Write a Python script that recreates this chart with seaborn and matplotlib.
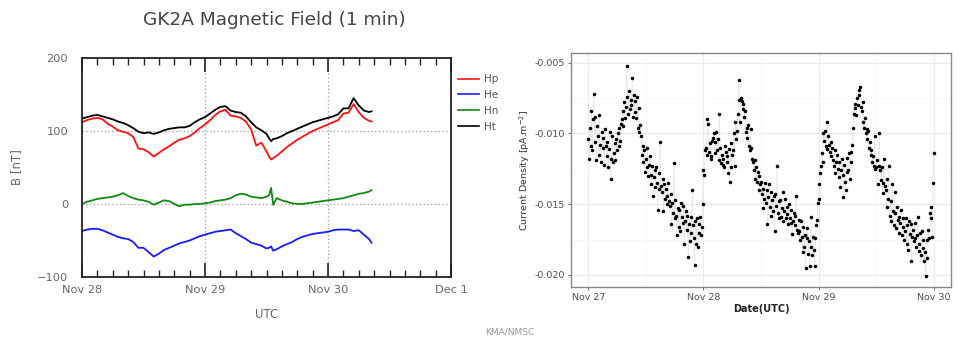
import matplotlib
matplotlib.use("Agg")
import matplotlib.pyplot as plt
import numpy as np
import pandas as pd
import seaborn as sns
from matplotlib.lines import Line2D
from matplotlib.ticker import FixedLocator, MultipleLocator, FuncFormatter

# ---------------- Left panel data: GK2A magnetic field (hours since Nov 28 00:00 UTC)
hours = [0, 1, 2, 3, 4, 5, 6, 7, 8, 9, 10, 11, 12, 13, 14, 15, 16, 17, 18, 19,
         20, 21, 22, 23, 24, 25, 26, 27, 28, 29, 30, 31, 32, 33, 34, 35, 36,
         36.5, 36.9, 37.3, 38, 39, 40, 41, 42, 43, 44, 45, 46, 47, 48, 49, 50,
         51, 52, 53, 54, 55, 56, 56.5]
hp = [112, 115, 117, 118, 116, 110, 106, 101, 99, 97, 92, 76, 75, 71, 65, 70, 75, 79, 84, 88,
      90, 93, 98, 104, 109, 115, 122, 127, 129, 121, 120, 118, 113, 102, 80, 84, 72,
      65, 61, 63, 66, 72, 78, 83, 88, 92, 96, 100, 103, 106, 109, 112, 115,
      124, 125, 137, 126, 118, 114, 113]
he = [-37, -35, -34, -34, -36, -39, -42, -45, -47, -48, -52, -60, -60, -66, -72, -68, -63, -60, -57, -54,
      -52, -50, -47, -44, -42, -40, -38, -37, -36, -35, -40, -44, -48, -53, -55, -57, -61,
      -60, -58, -64, -62, -58, -55, -52, -48, -45, -43, -41, -40, -39, -38, -36, -35,
      -35, -35, -37, -36, -42, -48, -53]
hn = [0, 3, 5, 7, 8, 9, 10, 12, 15, 11, 8, 6, 5, 3, -1, 2, 5, 4, 0, -3,
      -1, -1, 0, 0, 1, 2, 4, 5, 6, 8, 12, 14, 13, 10, 9, 8, 10,
      12, 22, -1, 8, 5, 3, 1, 0, 0, 1, 2, 3, 4, 5, 6, 7,
      8, 10, 12, 14, 15, 17, 19]
ht = [117, 119, 121, 122, 120, 118, 116, 113, 111, 108, 104, 99, 97, 98, 96, 98, 101, 103, 104, 105,
      105, 107, 112, 116, 119, 124, 129, 133, 134, 128, 126, 125, 120, 112, 105, 101, 96,
      90, 86, 89, 90, 93, 97, 100, 103, 106, 109, 112, 114, 116, 118, 120, 123,
      131, 131, 145, 135, 128, 126, 127]
components = ["Hp", "He", "Hn", "Ht"]
left_ticks_h = [0, 24, 48, 72]
left_tick_labels = ["Nov 28", "Nov 29", "Nov 30", "Dec 1"]

# ---------------- Right panel data: current density (10-min samples from Nov 27 00:00 UTC), units 1e-3
cd_milli = [
    -10.4, -11.8, -9.6, -10.9, -8.4, -11.2,
    -9.0, -7.2, -10.6, -8.8, -11.9, -9.5,
    -10.2, -11.5, -8.7, -10.8, -12.0, -9.9,
    -11.0, -10.3, -12.2, -9.7, -10.9, -11.6,
    -10.6, -12.4, -11.1, -9.9, -13.2, -11.8,
    -10.2, -12.0, -11.4, -10.7, -11.9, -10.4,
    -11.2, -10.0, -10.9, -9.6, -10.5, -9.3,
    -9.0, -8.4, -9.5, -7.8, -8.9, -8.1,
    -5.2, -7.4, -8.6, -7.0, -8.3, -7.6,
    -8.0, -6.1, -8.8, -7.3, -8.5, -7.7,
    -8.9, -7.4, -9.6, -8.2, -9.9, -9.4,
    -10.2, -11.5, -10.9, -12.0, -11.2, -12.7,
    -11.8, -12.4, -11.0, -13.0, -12.2, -11.6,
    -12.9, -13.6, -12.3, -14.4, -13.1, -12.6,
    -13.8, -12.4, -13.5, -15.4, -13.9, -12.8,
    -10.6, -13.7, -14.1, -13.2, -15.5, -13.6,
    -14.6, -13.9, -15.0, -14.4, -13.5, -14.8,
    -15.1, -14.3, -16.4, -14.9, -15.6, -12.1,
    -16.0, -14.7, -15.8, -17.2, -15.3, -16.6,
    -15.4, -16.9, -14.9, -15.9, -16.3, -15.1,
    -17.8, -16.2, -15.5, -16.8, -15.8, -18.7,
    -16.4, -17.6, -15.9, -17.0, -14.0, -16.5,
    -17.4, -19.3, -16.2, -17.8, -16.0, -18.0,
    -17.0, -16.4, -15.9, -17.2, -16.6, -15.0,
    -12.6, -12.9, -11.2, -11.0, -11.5, -9.0,
    -9.3, -11.3, -10.7, -11.6, -11.8, -10.5,
    -10.3, -10.0, -11.4, -10.6, -9.9, -11.2,
    -10.4, -11.9, -8.6, -11.0, -12.1, -11.5,
    -12.2, -11.8, -12.4, -10.9, -11.3, -12.0,
    -11.6, -12.8, -11.1, -13.4, -10.7, -12.4,
    -11.5, -11.2, -10.0, -12.3, -9.2, -10.4,
    -9.8, -8.6, -6.2, -7.6, -9.2, -7.5,
    -7.7, -8.3, -7.9, -8.8, -8.4, -9.9,
    -9.6, -10.3, -9.4, -10.9, -11.2, -9.7,
    -11.0, -11.8, -12.0, -12.6, -11.9, -13.2,
    -12.4, -13.4, -12.7, -14.0, -13.0, -13.6,
    -13.4, -14.3, -13.9, -15.3, -14.6, -13.5,
    -14.9, -14.0, -16.4, -14.5, -13.6, -15.2,
    -14.1, -15.8, -14.7, -15.5, -14.4, -16.9,
    -14.3, -15.1, -12.3, -15.6, -16.0, -14.8,
    -14.7, -15.9, -15.3, -14.1, -16.2, -15.5,
    -14.6, -16.0, -15.7, -15.2, -16.4, -15.0,
    -16.0, -15.4, -16.3, -17.1, -16.2, -15.6,
    -16.5, -15.8, -14.4, -16.8, -17.0, -16.1,
    -16.9, -17.5, -16.2, -17.3, -18.4, -16.6,
    -18.0, -17.2, -19.5, -17.4, -16.7, -18.5,
    -17.6, -19.4, -18.0, -15.9, -18.6, -17.3,
    -18.2, -19.4, -17.4, -16.5, -16.1, -14.9,
    -14.6, -13.6, -12.8, -12.3, -11.4, -12.0,
    -10.0, -10.5, -9.8, -10.9, -11.1, -9.2,
    -10.2, -10.8, -11.3, -10.6, -11.6, -11.0,
    -11.9, -12.3, -11.2, -12.8, -12.0, -11.5,
    -12.5, -13.1, -12.0, -13.8, -12.6, -11.8,
    -12.9, -14.5, -12.2, -13.4, -14.0, -12.7,
    -11.7, -12.6, -11.4, -13.2, -12.0, -11.3,
    -10.8, -9.6, -8.6, -8.2, -7.9, -8.7,
    -7.5, -8.0, -7.3, -6.9, -6.7, -8.1,
    -8.4, -7.8, -9.2, -9.6, -8.9, -10.0,
    -9.7, -10.4, -9.8, -11.0, -10.6, -11.5,
    -11.2, -12.0, -11.6, -12.3, -10.2, -12.5,
    -12.4, -11.9, -13.6, -12.3, -10.0, -12.6,
    -13.3, -12.4, -14.2, -13.5, -11.8, -13.7,
    -14.0, -15.2, -13.2, -14.6, -12.3, -15.8,
    -14.8, -16.2, -13.6, -15.5, -16.5, -14.1,
    -15.6, -16.7, -15.2, -16.1, -17.0, -15.9,
    -16.3, -15.4, -17.2, -16.6, -16.0, -17.5,
    -16.9, -16.0, -17.8, -16.5, -18.2, -16.2,
    -17.1, -16.4, -19.0, -17.3, -16.8, -17.6,
    -16.3, -17.4, -18.0, -17.2, -15.9, -17.8,
    -18.3, -17.0, -18.6, -16.9, -17.5, -18.1,
    -19.0, -18.4, -20.1, -18.8, -17.5, -16.8,
    -17.4, -15.6, -16.0, -15.2, -17.3, -13.5,
    -11.4,
]
right_ticks_h = [0, 24, 48, 72]
right_tick_labels = ["Nov 27", "Nov 28", "Nov 29", "Nov 30"]
right_yticks = [-0.020, -0.015, -0.010, -0.005]

# ---------------- Build tables
df_b = pd.DataFrame({"hour": hours * 4,
                     "B": hp + he + hn + ht,
                     "comp": sum([[c] * len(hours) for c in components], [])})
cd_hours = np.arange(len(cd_milli)) / 6.0
df_cd = pd.DataFrame({"hour": cd_hours, "J": np.array(cd_milli) * 1e-3})

# ---------------- Figure
W, H = 961, 338
fig = plt.figure(figsize=(W / 100, H / 100), dpi=100)
fig.patch.set_facecolor("white")

def box(l, t, r, b):
    return [l / W, (H - b) / H, (r - l) / W, (b - t) / H]

# ===== Left panel
axL = fig.add_axes(box(82, 58, 451, 277))
palette = {"Hp": "#ff1010", "He": "#1a1aff", "Hn": "#108a10", "Ht": "#000000"}
sns.lineplot(data=df_b, x="hour", y="B", hue="comp", hue_order=components,
             palette=palette, estimator=None, sort=False, lw=1.3, legend=False, ax=axL)
axL.set_xlim(0, 72)
axL.set_ylim(-100, 200)
axL.xaxis.set_major_locator(FixedLocator(left_ticks_h))
axL.set_xticklabels(left_tick_labels)
axL.xaxis.set_minor_locator(MultipleLocator(3))
axL.yaxis.set_major_locator(FixedLocator([-100, 0, 100, 200]))
axL.tick_params(axis="x", which="major", direction="in", length=10, width=1.2,
                top=True, bottom=True, labelsize=8.2, labelcolor="#666666", pad=6, color="#222222")
axL.tick_params(axis="x", which="minor", direction="in", length=5, width=1.0,
                top=True, bottom=True, color="#222222")
axL.tick_params(axis="y", which="major", direction="in", length=0, labelsize=8.2,
                labelcolor="#666666", pad=10)
for s in axL.spines.values():
    s.set_color("#222222")
    s.set_linewidth(1.3)
for xv in [24, 48]:
    axL.axvline(xv, color="#999999", lw=0.9, ls=(0, (1, 2)), zorder=0)
for yv in [0, 100]:
    axL.axhline(yv, color="#999999", lw=0.9, ls=(0, (1, 2)), zorder=0)
axL.set_xlabel("UTC", fontsize=8.5, color="#666666", labelpad=9)
axL.set_ylabel("B [nT]", fontsize=8.5, color="#666666", labelpad=10)

handles = [Line2D([], [], color=palette[c], lw=1.2) for c in components]
fig.legend(handles, components, loc="upper left", bbox_to_anchor=(449 / W, 1 - 65 / H),
           frameon=False, fontsize=7.5, handlelength=2.0, handletextpad=0.5,
           labelspacing=0.55, labelcolor="#555555")

fig.text(274 / W, 1 - 20 / H, "GK2A Magnetic Field (1 min)", ha="center", va="center",
         fontsize=13.3, color="#444444")

# ===== Right panel
axR = fig.add_axes(box(571, 53, 951, 287))
axR.set_facecolor("white")
sns.lineplot(data=df_cd, x="hour", y="J", color="#e4e4e4", lw=0.5, ax=axR, zorder=1)
sns.scatterplot(data=df_cd, x="hour", y="J", color="black", s=6.5, linewidth=0,
                ax=axR, zorder=2)
axR.set_xlim(-0.05 * 72, 72 * 1.05)
axR.set_ylim(-0.02085, -0.00431)
axR.xaxis.set_major_locator(FixedLocator(right_ticks_h))
axR.set_xticklabels(right_tick_labels)
axR.xaxis.set_minor_locator(FixedLocator([12, 36, 60]))
axR.yaxis.set_major_locator(FixedLocator(right_yticks))
axR.yaxis.set_major_formatter(FuncFormatter(lambda v, p: f"{v:.3f}"))
axR.yaxis.set_minor_locator(FixedLocator([-0.0175, -0.0125, -0.0075]))
axR.grid(which="major", color="#ebebeb", lw=0.9)
axR.grid(which="minor", color="#f4f4f4", lw=0.5)
axR.set_axisbelow(True)
axR.tick_params(axis="both", which="major", direction="out", length=2.5, width=0.6,
                color="#555555", labelsize=6.8, labelcolor="#4d4d4d", pad=2)
axR.tick_params(axis="both", which="minor", length=0)
for s in axR.spines.values():
    s.set_color("#888888")
    s.set_linewidth(1.0)
axR.set_xlabel("Date(UTC)", fontsize=7, fontweight="bold", color="#222222", labelpad=1)
axR.set_ylabel("Current Density [pA.m$^{-2}$]", fontsize=6.8, color="#333333", labelpad=2)

fig.text(510 / W, 1 - 332 / H, "KMA/NMSC", ha="center", va="center",
         fontsize=6.5, color="#999999")

fig.savefig("out.png", dpi=100, facecolor="white")
